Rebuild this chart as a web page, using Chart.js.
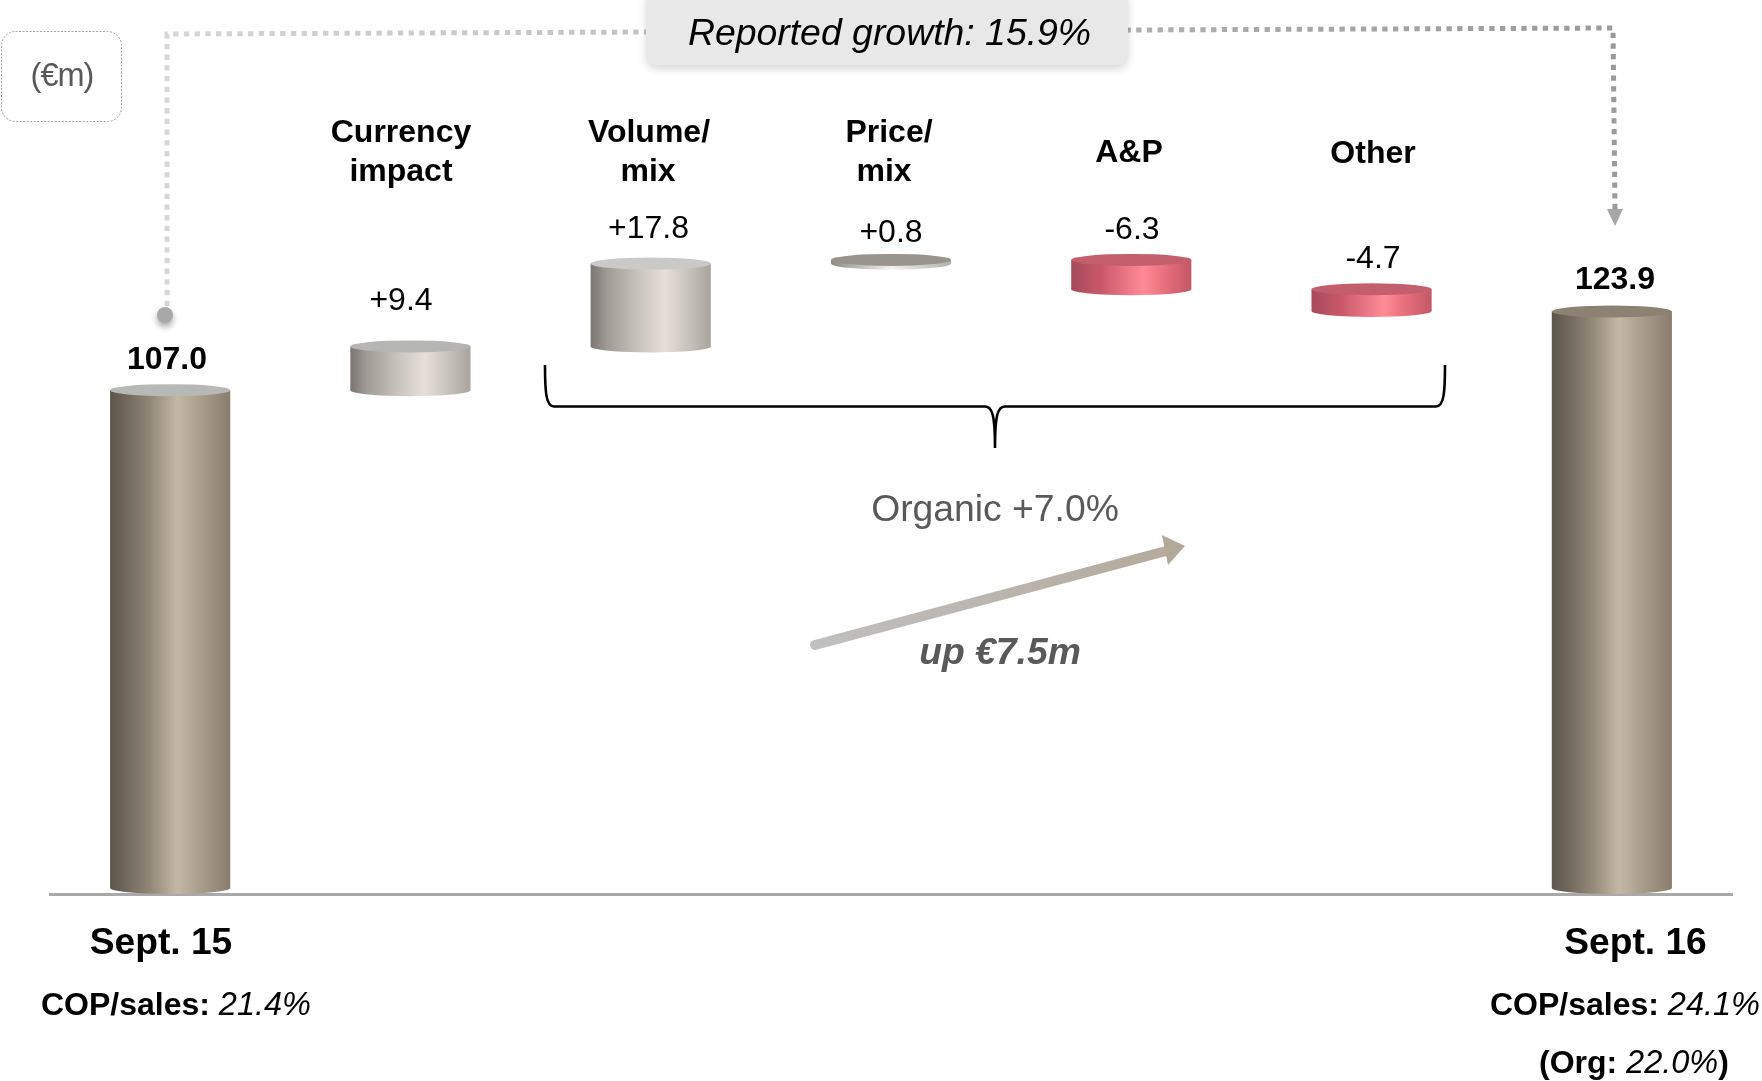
<!DOCTYPE html>
<html>
<head>
<meta charset="utf-8">
<title>COP bridge</title>
<script src="https://cdn.jsdelivr.net/npm/chart.js@4"></script>
<style>
  html, body { margin: 0; padding: 0; background: #fff; }
  canvas { display: block; }
</style>
</head>
<body>
<canvas id="bridgeChart" width="1762" height="1081"></canvas>
<script>
// values (EUR m)
const categories = ['Sept. 15', 'Currency impact', 'Volume/mix', 'Price/mix', 'A&P', 'Other', 'Sept. 16'];
const barLows = [0, 107.0, 116.4, 134.2, 128.7, 124.0, 0];
const barHighs = [107.0, 116.4, 134.2, 135.0, 135.0, 128.7, 123.9];
const valueLabels = ['107.0', '+9.4', '+17.8', '+0.8', '-6.3', '-4.7', '123.9'];

const FONT = '"Liberation Sans", Arial, sans-serif';
const CAP_RY = 6;

// side shading and cap colour per bar
const SHADES = {
    tall: [[0, '#5c554a'], [0.1, '#6b6357'], [0.32, '#8f8576'], [0.56, '#c3b7a5'], [0.78, '#a5998a'], [1, '#877c6e']],
    light: [[0, '#7a7570'], [0.14, '#a09b95'], [0.4, '#c9c4be'], [0.62, '#e6dfda'], [0.85, '#c2bdb6'], [1, '#a8a39c']],
    disc: [[0, '#8a8a88'], [0.5, '#f2f2f2'], [1, '#b0b0ae']],
    red: [[0, '#a64a5c'], [0.25, '#c9596a'], [0.6, '#ff8b96'], [0.85, '#dc6674'], [1, '#c25866']],
};
const barShades = ['tall', 'light', 'light', 'disc', 'red', 'red', 'tall'];
const capColors = ['#b7b9b6', '#b5b5b3', '#c9c9c7', '#98948c', '#c35f6c', '#c35f6c', '#8b8274'];

// label anchors
const valueLabelX = [167, 401, 648.5, 891, 1132, 1373, 1615];
const valueLabelY = [369, 310, 238, 242, 239, 268, 289];

function sideFill(context) {
    const chart = context.chart;
    const xScale = chart.scales.x;
    if (!xScale || !chart.chartArea) return '#999';
    const cx = xScale.getPixelForValue(context.dataIndex);
    const half = xScale.width / categories.length / 4;
    const g = chart.ctx.createLinearGradient(cx - half, 0, cx + half, 0);
    SHADES[barShades[context.dataIndex]].forEach(s => g.addColorStop(s[0], s[1]));
    return g;
}

function text(ctx, str, x, y, font, color, align) {
    ctx.font = font;
    ctx.fillStyle = color;
    ctx.textAlign = align || 'center';
    ctx.textBaseline = 'alphabetic';
    ctx.fillText(str, x, y);
}

// several font runs on one line, left aligned
function runs(ctx, x, y, parts) {
    parts.forEach(p => {
        text(ctx, p[0], x, y, p[1], '#000', 'left');
        x += ctx.measureText(p[0]).width;
    });
}

// cylinder ends on top of the library's bars
const cylinderCaps = {
    id: 'cylinderCaps',
    afterDatasetsDraw(chart) {
        const ctx = chart.ctx;
        chart.getDatasetMeta(0).data.forEach((bar, i) => {
            const p = bar.getProps(['x', 'y', 'base', 'width'], true);
            const rx = p.width / 2;
            ctx.save();
            ctx.beginPath();
            ctx.ellipse(p.x, p.base, rx, CAP_RY, 0, 0, Math.PI * 2);
            ctx.fillStyle = sideFill({ chart: chart, dataIndex: i });
            ctx.fill();
            ctx.beginPath();
            ctx.ellipse(p.x, p.y, rx, CAP_RY, 0, 0, Math.PI * 2);
            ctx.fillStyle = capColors[i];
            ctx.fill();
            ctx.restore();
        });
    }
};

const annotations = {
    id: 'annotations',
    afterDraw(chart) {
        const ctx = chart.ctx;
        const bold = '700 32px ' + FONT;
        const plain = '400 32px ' + FONT;
        const italic = 'italic 400 32.5px ' + FONT;

        // unit box
        ctx.save();
        ctx.beginPath();
        ctx.roundRect(1.5, 31.5, 120, 90, 14);
        ctx.setLineDash([2, 1.5]);
        ctx.lineWidth = 1;
        ctx.strokeStyle = '#a0a0a0';
        ctx.stroke();
        ctx.restore();
        ctx.save();
        ctx.letterSpacing = '-1px';
        text(ctx, '(€m)', 62, 86, '400 32.5px ' + FONT, '#595959');
        ctx.restore();

        // dotted connector, light to dark
        ctx.save();
        const dotted = ctx.createLinearGradient(166, 0, 1613, 0);
        dotted.addColorStop(0, '#d6d6d6');
        dotted.addColorStop(1, '#9a9a9a');
        ctx.beginPath();
        ctx.moveTo(167, 306);
        ctx.lineTo(167, 34);
        ctx.lineTo(1613, 28);
        ctx.lineTo(1615, 210);
        ctx.setLineDash([5.3, 5.4]);
        ctx.lineWidth = 5;
        ctx.strokeStyle = dotted;
        ctx.stroke();
        ctx.restore();

        ctx.fillStyle = '#a6a6a6';
        ctx.beginPath();
        ctx.moveTo(1607, 209);
        ctx.lineTo(1623, 209);
        ctx.lineTo(1615, 226);
        ctx.closePath();
        ctx.fill();

        ctx.save();
        ctx.shadowColor = 'rgba(0,0,0,0.35)';
        ctx.shadowBlur = 6;
        ctx.shadowOffsetY = 4;
        ctx.fillStyle = '#a8a8a8';
        ctx.beginPath();
        ctx.arc(165, 315, 8, 0, Math.PI * 2);
        ctx.fill();
        ctx.restore();

        // reported growth box
        ctx.save();
        ctx.shadowColor = 'rgba(0,0,0,0.16)';
        ctx.shadowBlur = 9;
        ctx.shadowOffsetY = 4;
        ctx.fillStyle = '#e8e8e8';
        ctx.beginPath();
        ctx.roundRect(646, -12, 482, 77, 11);
        ctx.fill();
        ctx.restore();
        text(ctx, 'Reported growth: 15.9%', 889.5, 45, 'italic 400 37.4px ' + FONT, '#000');

        // bridge headings
        text(ctx, 'Currency', 401, 142, bold, '#000');
        text(ctx, 'impact', 401, 181, bold, '#000');
        text(ctx, 'Volume/', 649, 142, bold, '#000');
        text(ctx, 'mix', 648, 181, bold, '#000');
        text(ctx, 'Price/', 889, 142, bold, '#000');
        text(ctx, 'mix', 884, 181, bold, '#000');
        text(ctx, categories[4], 1129, 162, bold, '#000');
        text(ctx, categories[5], 1373, 163, bold, '#000');

        // value labels
        valueLabels.forEach((label, i) => {
            const endBar = i === 0 || i === valueLabels.length - 1;
            text(ctx, label, valueLabelX[i], valueLabelY[i], endBar ? bold : plain, '#000');
        });

        // brace under the organic items
        ctx.save();
        ctx.lineWidth = 2.6;
        ctx.strokeStyle = '#000';
        ctx.beginPath();
        ctx.moveTo(545, 365);
        ctx.bezierCurveTo(545, 392, 546, 406.5, 554, 406.5);
        ctx.lineTo(985, 406.5);
        ctx.bezierCurveTo(992, 406.5, 995, 414, 995, 448);
        ctx.bezierCurveTo(995, 414, 998, 406.5, 1005, 406.5);
        ctx.lineTo(1436, 406.5);
        ctx.bezierCurveTo(1444, 406.5, 1445, 392, 1445, 365);
        ctx.stroke();
        ctx.restore();

        text(ctx, 'Organic +7.0%', 995, 521, '400 37.3px ' + FONT, '#595959');

        // organic growth arrow
        ctx.save();
        const arrow = ctx.createLinearGradient(813, 645, 1185, 545);
        arrow.addColorStop(0, '#c0c0c0');
        arrow.addColorStop(1, '#b3a99b');
        ctx.beginPath();
        ctx.moveTo(815, 645);
        ctx.lineTo(1166, 551);
        ctx.lineWidth = 10;
        ctx.lineCap = 'round';
        ctx.strokeStyle = arrow;
        ctx.stroke();
        ctx.beginPath();
        ctx.moveTo(1162, 535);
        ctx.lineTo(1185, 546);
        ctx.lineTo(1168, 565);
        ctx.closePath();
        ctx.fillStyle = '#b3a99b';
        ctx.fill();
        ctx.restore();

        text(ctx, 'up €7.5m', 1000, 664, 'italic 700 37.3px ' + FONT, '#595959');

        // footers
        text(ctx, categories[0], 161, 954, '700 37.2px ' + FONT, '#000');
        text(ctx, categories[6], 1635.5, 954, '700 37.2px ' + FONT, '#000');
        runs(ctx, 41, 1015, [['COP/sales: ', bold], ['21.4%', italic]]);
        runs(ctx, 1490, 1015, [['COP/sales: ', bold], ['24.1%', italic]]);
        runs(ctx, 1539, 1073, [['(Org: ', bold], ['22.0%', italic], [')', bold]]);
    }
};

new Chart(document.getElementById('bridgeChart').getContext('2d'), {
    type: 'bar',
    data: {
        labels: categories,
        datasets: [{
            data: barLows.map((low, i) => [low, barHighs[i]]),
            backgroundColor: sideFill,
            borderWidth: 0,
            categoryPercentage: 1,
            barPercentage: 0.5,
        }]
    },
    options: {
        responsive: false,
        animation: false,
        layout: { padding: { left: 50, right: 30, top: 4, bottom: 179 } },
        plugins: {
            legend: { display: false },
            title: { display: false },
            tooltip: { enabled: false }
        },
        scales: {
            x: {
                grid: { display: false },
                ticks: { display: false },
                border: { display: true, color: '#a9a9a9', width: 3 }
            },
            y: {
                display: false,
                min: -1.3,
                max: 190,
                grid: { display: false }
            }
        }
    },
    plugins: [cylinderCaps, annotations]
});
</script>
</body>
</html>
